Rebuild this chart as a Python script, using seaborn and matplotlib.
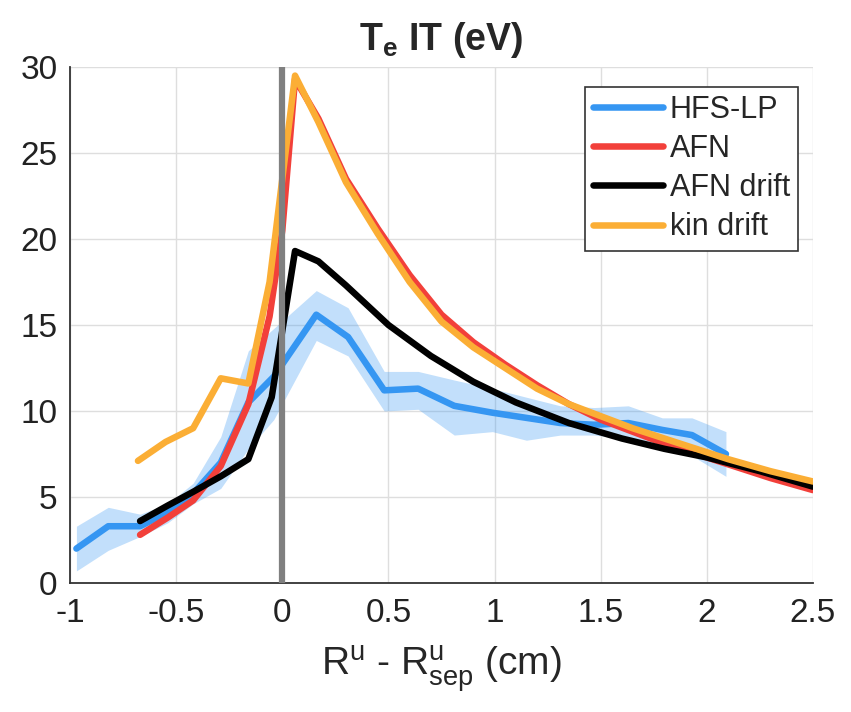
import numpy as np
import seaborn as sns
import matplotlib
matplotlib.use("Agg")
import matplotlib.pyplot as plt

# HFS-LP measurement (mean and shaded band)
hfs_x = [-0.97, -0.82, -0.67, -0.54, -0.42, -0.29, -0.16, -0.04, 0.16, 0.31, 0.48,
         0.64, 0.81, 0.99, 1.15, 1.31, 1.47, 1.63, 1.79, 1.93, 2.09]
hfs_y = [2.0, 3.3, 3.3, 4.1, 5.2, 7.0, 10.5, 12.0, 15.6, 14.3, 11.2,
         11.3, 10.3, 9.9, 9.6, 9.3, 9.2, 9.3, 8.9, 8.6, 7.5]
hfs_hi = [3.3, 4.4, 4.0, 4.6, 5.8, 8.5, 13.5, 14.8, 17.0, 16.0, 12.3,
          12.3, 11.8, 11.3, 10.8, 10.3, 10.2, 10.3, 9.6, 9.6, 8.8]
hfs_lo = [0.7, 1.9, 2.7, 3.5, 4.6, 5.5, 7.8, 9.5, 14.1, 13.2, 10.0,
          10.1, 8.6, 8.8, 8.3, 8.6, 8.6, 8.4, 8.0, 7.4, 6.2]

# AFN
afn_x = [-0.67, -0.54, -0.42, -0.29, -0.16, -0.06, 0.0, 0.06, 0.17, 0.3, 0.45, 0.6,
         0.75, 0.9, 1.05, 1.2, 1.35, 1.5, 1.65, 1.8, 1.95, 2.1, 2.3, 2.5]
afn_y = [2.8, 3.8, 4.8, 6.8, 10.4, 15.5, 20.5, 29.3, 27.0, 23.5, 20.6, 17.9,
         15.6, 14.0, 12.7, 11.5, 10.4, 9.5, 8.8, 8.1, 7.5, 6.9, 6.1, 5.4]

# AFN drift
drift_x = [-0.67, -0.54, -0.42, -0.29, -0.16, -0.05, 0.06, 0.17, 0.3, 0.5, 0.7,
           0.9, 1.1, 1.35, 1.6, 1.8, 2.0, 2.25, 2.5]
drift_y = [3.6, 4.5, 5.3, 6.2, 7.2, 10.8, 19.3, 18.7, 17.3, 15.0, 13.2,
           11.7, 10.5, 9.3, 8.4, 7.8, 7.3, 6.5, 5.6]

# kin drift
kin_x = [-0.68, -0.55, -0.42, -0.29, -0.16, -0.06, 0.0, 0.06, 0.17, 0.3, 0.45, 0.6,
         0.75, 0.9, 1.05, 1.2, 1.35, 1.5, 1.65, 1.8, 1.95, 2.1, 2.3, 2.5]
kin_y = [7.1, 8.2, 9.0, 11.9, 11.6, 17.5, 23.5, 29.5, 26.8, 23.3, 20.3, 17.5,
         15.2, 13.7, 12.5, 11.3, 10.4, 9.7, 9.0, 8.4, 7.8, 7.2, 6.5, 5.9]

x_ticks = [-1, -0.5, 0, 0.5, 1, 1.5, 2, 2.5]
x_tick_labels = ['-1', '-0.5', '0', '0.5', '1', '1.5', '2', '2.5']
y_ticks = [0, 5, 10, 15, 20, 25, 30]

sns.set_style("whitegrid")
plt.rcParams['font.family'] = ['Liberation Sans', 'DejaVu Sans']
plt.rcParams['mathtext.fontset'] = 'custom'
plt.rcParams['mathtext.rm'] = 'Liberation Sans'
plt.rcParams['mathtext.it'] = 'Liberation Sans:italic'
plt.rcParams['mathtext.bf'] = 'Liberation Sans:bold'
plt.rcParams['axes.unicode_minus'] = False

c_blue = '#3596f2'
c_red = '#f2403a'
c_orange = '#fbae35'

fig = plt.figure(figsize=(8.51, 7.12), dpi=100)
ax = fig.add_axes([0.0823, 0.1812, 0.873, 0.7247])

ax.fill_between(hfs_x, hfs_lo, hfs_hi, color=c_blue, alpha=0.3, linewidth=0, zorder=2)
sns.lineplot(x=hfs_x, y=hfs_y, ax=ax, color=c_blue, linewidth=4.7, label='HFS-LP', zorder=3)
sns.lineplot(x=afn_x, y=afn_y, ax=ax, color=c_red, linewidth=4.7, label='AFN', zorder=4)
sns.lineplot(x=drift_x, y=drift_y, ax=ax, color='black', linewidth=4.7, label='AFN drift', zorder=5)
sns.lineplot(x=kin_x, y=kin_y, ax=ax, color=c_orange, linewidth=4.7, label='kin drift', zorder=6)
ax.axvline(0, color='#808080', linewidth=4.5, zorder=7)

ax.set_xlim(-1, 2.5)
ax.set_ylim(0, 30)
ax.set_xticks(x_ticks)
ax.set_xticklabels(x_tick_labels)
ax.set_yticks(y_ticks)
ax.tick_params(axis='both', labelsize=24, direction='in', length=6, width=1.2,
               color='#333333', labelcolor='#222222')
ax.tick_params(axis='x', pad=11)
ax.tick_params(axis='y', pad=9)
ax.grid(True, color='#dedede', linewidth=1)
for side in ['top', 'right']:
    ax.spines[side].set_visible(False)
for side in ['left', 'bottom']:
    ax.spines[side].set_color('#333333')
    ax.spines[side].set_linewidth(1.3)

ax.set_title(r'$\mathbf{T_e}$ $\mathbf{IT\ (eV)}$', fontsize=27, pad=12)
ax.set_xlabel(r'$\mathregular{R^u}$ - $\mathregular{R^u_{sep}}$ (cm)', fontsize=28, labelpad=10)
ax.set_ylabel('')

leg = ax.legend(loc='upper right', bbox_to_anchor=(0.98, 0.962), fontsize=22,
                handlelength=2.3, handletextpad=0.2, borderpad=0.27,
                labelspacing=0.3, frameon=True, fancybox=False, borderaxespad=0)
leg.get_frame().set_edgecolor('#333333')
leg.get_frame().set_linewidth(1.2)
leg.get_frame().set_alpha(1)

fig.savefig('out.png', dpi=100)
